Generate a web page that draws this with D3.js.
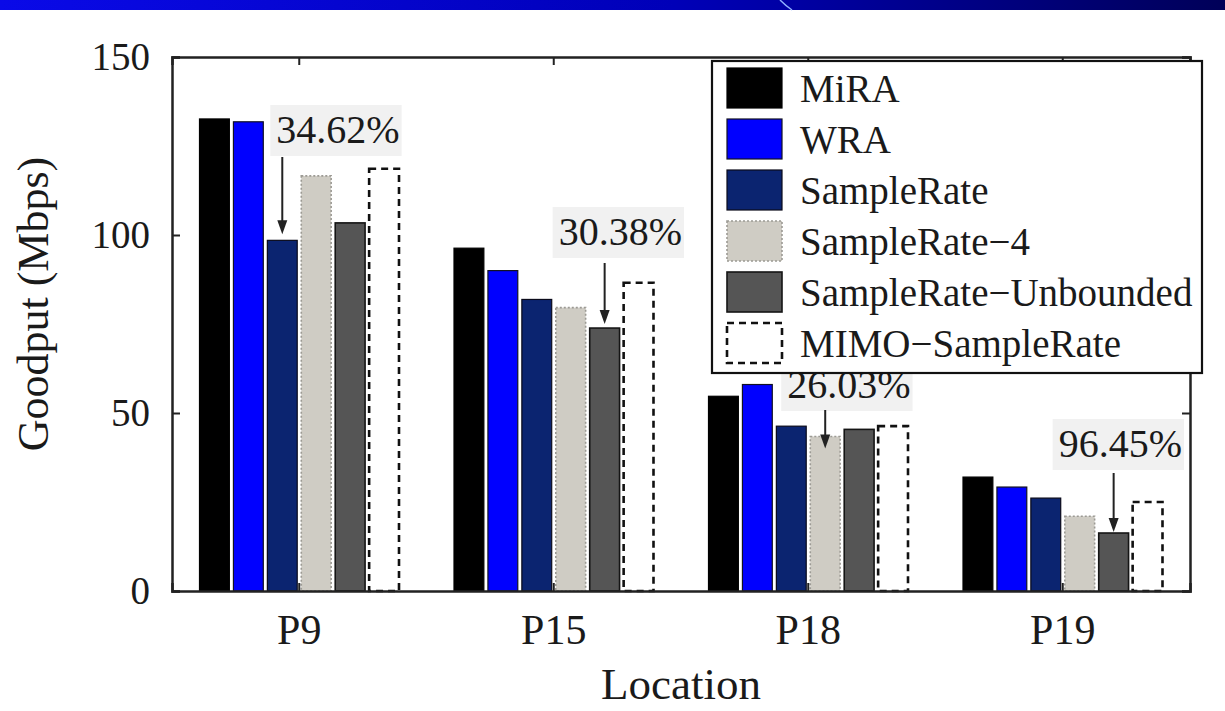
<!DOCTYPE html>
<html>
<head>
<meta charset="utf-8">
<script src="https://cdn.jsdelivr.net/npm/d3@7"></script>
<style>
  html, body { margin: 0; padding: 0; background: #fff; }
  svg { display: block; }
  text { font-family: "Liberation Serif", "Times New Roman", serif; fill: #1a1a1a; }
</style>
</head>
<body>
<svg id="chart" width="1225" height="711"></svg>
<script>
// Locations on the x axis
const categories = ["P9", "P15", "P18", "P19"];
// Rate-adaptation schemes, in drawing order
const seriesNames = ["MiRA", "WRA", "SampleRate", "SampleRate\u22124", "SampleRate\u2212Unbounded", "MIMO\u2212SampleRate"];
// Goodput (Mbps) for each location
const miraValues       = [132.6, 96.3, 54.7, 32.0];
const wraValues        = [131.8, 90.0, 58.0, 29.2];
const sampleRateValues = [98.5, 81.9, 46.3, 26.1];
const sampleRate4Values = [116.6, 79.6, 43.402, 21.0];
const unboundedValues  = [103.4, 73.86, 45.4, 16.289];
const mimoValues       = [118.6, 86.6, 46.3, 25.0];
const yTicks = [0, 50, 100, 150];
// Gain annotations: location, series pointed at, label
const gainLocations = ["P9", "P15", "P18", "P19"];
const gainSeries = ["SampleRate", "SampleRate\u2212Unbounded", "SampleRate\u22124", "SampleRate\u2212Unbounded"];
const gainLabels = ["34.62%", "30.38%", "26.03%", "96.45%"];

const allValues = [miraValues, wraValues, sampleRateValues, sampleRate4Values, unboundedValues, mimoValues];

// drawing styles per series
const styles = [
  { fill: "#000000", stroke: "#000000", width: 1.2, dash: null },
  { fill: "#0000ff", stroke: "#111122", width: 1.2, dash: null },
  { fill: "#0b2470", stroke: "#0a0a1a", width: 1.2, dash: null },
  { fill: "#cfccc4", stroke: "#9c9a94", width: 1.6, dash: "2,2" },
  { fill: "#555555", stroke: "#151515", width: 1.6, dash: null },
  { fill: "#ffffff", stroke: "#111111", width: 2.6, dash: "7,5" }
];

// annotation placement: text left offset from arrow, text baseline, arrow start, arrow tip offset
const gainLayout = [
  { dx: -6,  textY: 143, arrowTop: 157, tipOff: -6 },
  { dx: -46, textY: 245, arrowTop: 263, tipOff: -4 },
  { dx: -38, textY: 398, arrowTop: 410, tipOff: 12 },
  { dx: -55, textY: 457, arrowTop: 473, tipOff: -1 }
];

const svg = d3.select("#chart");

// slide header strip
const defs = svg.append("defs");
const grad = defs.append("linearGradient").attr("id", "hdr").attr("x1", "0%").attr("x2", "100%");
grad.append("stop").attr("offset", "0%").attr("stop-color", "#0a0ae8");
grad.append("stop").attr("offset", "55%").attr("stop-color", "#0000b8");
grad.append("stop").attr("offset", "100%").attr("stop-color", "#000058");
svg.append("rect").attr("x", 0).attr("y", 0).attr("width", 1225).attr("height", 10).attr("fill", "url(#hdr)");
svg.append("path").attr("d", "M780,0 Q786,6 792,10").attr("fill", "none").attr("stroke", "#8fb0ff").attr("stroke-width", 1.5);

const plotLeft = 172, plotRight = 1190, plotTop = 57, plotBottom = 591;

const x0 = d3.scaleBand().domain(categories).range([plotLeft, plotRight]).padding(0);
const x1 = d3.scaleBand().domain(seriesNames).range([27.5, 227]).paddingInner(0.12).paddingOuter(0);
const y = d3.scaleLinear().domain([0, 150]).range([plotBottom, plotTop]);

// bars
const g = svg.append("g");
seriesNames.forEach((s, si) => {
  const st = styles[si];
  g.selectAll(null)
    .data(categories.map((c, ci) => ({ c, v: allValues[si][ci] })))
    .enter().append("rect")
    .attr("x", d => x0(d.c) + x1(s))
    .attr("y", d => y(d.v))
    .attr("width", x1.bandwidth())
    .attr("height", d => y(0) - y(d.v))
    .attr("fill", st.fill)
    .attr("stroke", st.stroke)
    .attr("stroke-width", st.width)
    .attr("stroke-dasharray", st.dash);
});

// axes frame
const fontTick = 39;
const axL = svg.append("g").attr("transform", `translate(${plotLeft},0)`)
  .call(d3.axisLeft(y).tickValues(yTicks).tickSize(-8).tickPadding(22));
const axR = svg.append("g").attr("transform", `translate(${plotRight},0)`)
  .call(d3.axisRight(y).tickValues(yTicks).tickSize(-8).tickFormat(""));
const axB = svg.append("g").attr("transform", `translate(0,${plotBottom})`)
  .call(d3.axisBottom(x0).tickSize(-8).tickPadding(23));
const axT = svg.append("g").attr("transform", `translate(0,${plotTop})`)
  .call(d3.axisTop(x0).tickSize(-8).tickFormat(""));
[axL, axR, axB, axT].forEach(a => {
  a.select(".domain").attr("stroke", "#222").attr("stroke-width", 2.5);
  a.selectAll(".tick line").attr("stroke", "#222").attr("stroke-width", 2);
  a.selectAll("text").attr("font-family", "Liberation Serif").attr("fill", "#1a1a1a");
});
axL.selectAll("text").attr("font-size", fontTick);
axB.selectAll("text").attr("font-size", 42);

// axis titles
svg.append("text")
  .attr("transform", "translate(33,304) rotate(-90)")
  .attr("text-anchor", "middle").attr("dy", "0.35em")
  .attr("font-size", 44)
  .text("Goodput (Mbps)");
svg.append("text")
  .attr("x", (plotLeft + plotRight) / 2).attr("y", 699)
  .attr("text-anchor", "middle")
  .attr("font-size", 45)
  .text("Location");

// gain annotations
gainLabels.forEach((lab, i) => {
  const c = gainLocations[i];
  const si = seriesNames.indexOf(gainSeries[i]);
  const v = allValues[si][categories.indexOf(c)];
  const L = gainLayout[i];
  const ax = x0(c) + x1(gainSeries[i]) + x1.bandwidth() / 2;
  const tipY = y(v) + L.tipOff;
  const bg = svg.append("rect").attr("fill", "#f1f1f1");
  const t = svg.append("text")
    .attr("x", ax + L.dx).attr("y", L.textY)
    .attr("font-size", 40)
    .text(lab);
  const bb = t.node().getBBox();
  bg.attr("x", bb.x - 6).attr("y", bb.y - 2)
    .attr("width", bb.width + 8).attr("height", bb.height + 6);
  svg.append("line")
    .attr("x1", ax).attr("x2", ax)
    .attr("y1", L.arrowTop).attr("y2", tipY - 12)
    .attr("stroke", "#222").attr("stroke-width", 2);
  svg.append("path")
    .attr("d", `M${ax - 5},${tipY - 14} L${ax + 5},${tipY - 14} L${ax},${tipY} Z`)
    .attr("fill", "#222");
});

// legend
const lg = svg.append("g");
lg.append("rect").attr("x", 712).attr("y", 61).attr("width", 490).attr("height", 312)
  .attr("fill", "#fff").attr("stroke", "#111").attr("stroke-width", 2.2);
seriesNames.forEach((s, si) => {
  const st = styles[si];
  const ry = 68 + si * 51;
  lg.append("rect").attr("x", 727).attr("y", ry).attr("width", 55).attr("height", 40)
    .attr("fill", st.fill).attr("stroke", st.stroke).attr("stroke-width", st.width)
    .attr("stroke-dasharray", st.dash);
  lg.append("text").attr("x", 800).attr("y", ry + 20).attr("dy", "0.35em")
    .attr("font-size", 39).text(s);
});
</script>
</body>
</html>
